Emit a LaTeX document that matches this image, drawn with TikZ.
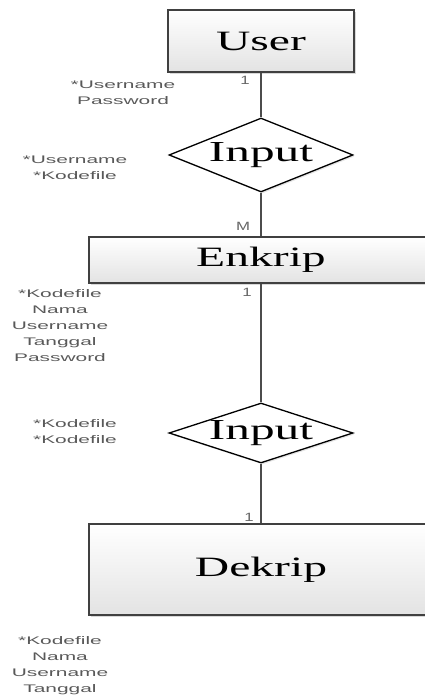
\documentclass[tikz,border=0pt]{standalone}
\usepackage{fontspec}
\setmainfont{Liberation Serif}
\setsansfont{Liberation Sans}
\usepackage{graphicx}
\usepackage{tikz}
\usetikzlibrary{shapes.geometric, shadows}
\tikzstyle{entitas} = [rectangle, draw=black!75, line width=1.3pt, top color=white, bottom color=gray!22, font=\fontsize{28}{28}\selectfont, drop shadow={shadow xshift=2pt, shadow yshift=-2pt, fill=gray!60}]
\tikzstyle{relasi} = [diamond, draw=black, line width=1.3pt, fill=white, inner sep=0pt, font=\fontsize{29}{29}\selectfont, drop shadow={shadow xshift=1.5pt, shadow yshift=-1.5pt, fill=gray!40}]
\tikzstyle{atribut} = [align=center, text=black!65, font=\sffamily\fontsize{11}{16}\selectfont, xscale=1.9]
\tikzstyle{kardinal} = [text=black!60, font=\sffamily\fontsize{12}{12}\selectfont, xscale=1.4]
\tikzstyle{garis} = [draw=black!70, line width=1.8pt]
\newcommand{\lebar}[1]{\scalebox{1.7}[1]{#1}}

\begin{document}
\begin{tikzpicture}[x=1pt, y=1pt]
				\useasboundingbox (0,0) rectangle (425,698);
				\clip (0,0) rectangle (425,698);
				
				\node (user) [entitas, minimum width=186pt, minimum height=62pt] at (261,657) {\lebar{User}};
				\node (input1) [relasi, below of=user, node distance=114pt, aspect=2.49, minimum width=184pt, minimum height=74pt] {\lebar{Input}};
				\node (enkrip) [entitas, below of=input1, node distance=105pt, minimum width=344pt, minimum height=46pt] {\lebar{Enkrip}};
				\node (input2) [relasi, below of=enkrip, node distance=173pt, aspect=3.07, minimum width=184pt, minimum height=60pt] {\lebar{Input}};
				\node (dekrip) [entitas, below of=input2, node distance=136.5pt, minimum width=344pt, minimum height=91pt] {\lebar{Dekrip}};
				
				% atribut
				\node (atr1) [atribut] at (123,605) {*Username\\Password};
				\node (atr2) [atribut] at (75,530) {*Username\\*Kodefile};
				\node (atr3) [atribut] at (60,372) {*Kodefile\\Nama\\Username\\Tanggal\\Password};
				\node (atr4) [atribut] at (75,266) {*Kodefile\\*Kodefile};
				\node (atr5) [atribut] at (60,32) {*Kodefile\\Nama\\Username\\Tanggal};
				
				% kardinalitas
				\node (k1) [kardinal] at (245,618) {1};
				\node (k2) [kardinal] at (243,472) {M};
				\node (k3) [kardinal] at (247,406) {1};
				\node (k4) [kardinal] at (249,181) {1};
				
				\draw [garis] (user) -- (input1);
				\draw [garis] (input1) -- (enkrip);
				\draw [garis] (enkrip) -- (input2);
				\draw [garis] (input2) -- (dekrip);
				
\end{tikzpicture}
\end{document}
